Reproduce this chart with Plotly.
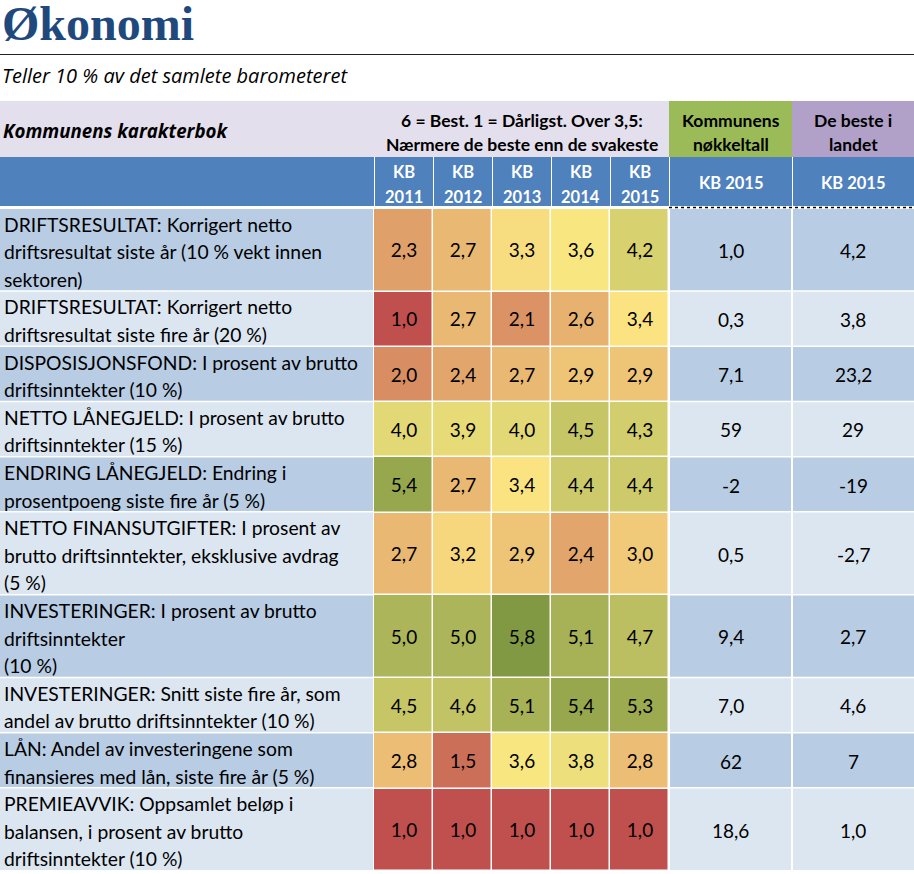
import plotly.graph_objects as go

# ---------------- data ----------------
title = "Økonomi"
subtitle = "Teller 10 % av det samlete barometeret"
table_title = "Kommunens karakterbok"
scale_note = ["6 = Best. 1 = Dårligst. Over 3,5:", "Nærmere de beste enn de svakeste"]
key_head = ["Kommunens", "nøkkeltall"]
best_head = ["De beste i", "landet"]
year_heads = ["KB<br>2011", "KB<br>2012", "KB<br>2013", "KB<br>2014", "KB<br>2015"]
key_year_head = "KB 2015"

indicators = [
    "DRIFTSRESULTAT: Korrigert netto<br>driftsresultat siste år (10 % vekt innen<br>sektoren)",
    "DRIFTSRESULTAT: Korrigert netto<br>driftsresultat siste fire år (20 %)",
    "DISPOSISJONSFOND: I prosent av brutto<br>driftsinntekter (10 %)",
    "NETTO LÅNEGJELD: I prosent av brutto<br>driftsinntekter (15 %)",
    "ENDRING LÅNEGJELD: Endring i<br>prosentpoeng siste fire år (5 %)",
    "NETTO FINANSUTGIFTER: I prosent av<br>brutto driftsinntekter, eksklusive avdrag<br>(5 %)",
    "INVESTERINGER: I prosent av brutto<br>driftsinntekter<br>(10 %)",
    "INVESTERINGER: Snitt siste fire år, som<br>andel av brutto driftsinntekter (10 %)",
    "LÅN: Andel av investeringene som<br>finansieres med lån, siste fire år (5 %)",
    "PREMIEAVVIK: Oppsamlet beløp i<br>balansen, i prosent av brutto<br>driftsinntekter (10 %)",
]
kb2011 = [2.3, 1.0, 2.0, 4.0, 5.4, 2.7, 5.0, 4.5, 2.8, 1.0]
kb2012 = [2.7, 2.7, 2.4, 3.9, 2.7, 3.2, 5.0, 4.6, 1.5, 1.0]
kb2013 = [3.3, 2.1, 2.7, 4.0, 3.4, 2.9, 5.8, 5.1, 3.6, 1.0]
kb2014 = [3.6, 2.6, 2.9, 4.5, 4.4, 2.4, 5.1, 5.4, 3.8, 1.0]
kb2015 = [4.2, 3.4, 2.9, 4.3, 4.4, 3.0, 4.7, 5.3, 2.8, 1.0]
kommune_2015 = [1.0, 0.3, 7.1, 59, -2, 0.5, 9.4, 7.0, 62, 18.6]
beste_2015 = [4.2, 3.8, 23.2, 29, -19, -2.7, 2.7, 4.6, 7, 1.0]
decimals = [1, 1, 1, 0, 0, 1, 1, 1, 0, 1]

# ---------------- style / layout ----------------
W, H = 914, 874
FONT = "Lato"
FONT2 = "Open Sans"
BLUE = "#4F81BD"
LAV = "#E4DFEC"
GREEN_H = "#9BBB59"
PURP_H = "#B1A0C7"
ROW_DARK = "#B8CCE4"
ROW_LIGHT = "#DCE6F1"
col_edges = [0, 374, 433, 492, 551, 610, 669, 792, 914]
LINE_H = 27.6
Y_DATA = 208.0
H1_TOP, H1_BOT, H2_BOT = 101, 157, 206


def fmt(v, d):
    return f"{v:.{d}f}".replace(".", ",")


# row boundaries from number of text lines
row_edges = [Y_DATA]
for lab in indicators:
    n = len(lab.split("<br>"))
    row_edges.append(row_edges[-1] + n * LINE_H)

shapes = []
annotations = []


def rect(x0, y0, x1, y1, color):
    shapes.append(dict(type="rect", xref="x", yref="y", x0=x0, x1=x1, y0=y0, y1=y1,
                       fillcolor=color, line=dict(width=0), layer="below"))


def text(x, y, s, size=18, color="black", xanchor="center", bold=False, italic=False,
         family=FONT, **kw):
    if bold:
        s = f"<b>{s}</b>"
    if italic:
        s = f"<i>{s}</i>"
    annotations.append(dict(x=x, y=y, xref="x", yref="y", text=s, showarrow=False,
                            xanchor=xanchor, yanchor="middle",
                            font=dict(family=family, size=size, color=color), **kw))


# title, rule, subtitle
text(0, 23, title, size=48, color="#1F497D", xanchor="left", bold=True,
     family="Liberation Serif", height=44, valign="middle")
shapes.append(dict(type="line", xref="x", yref="y", x0=0, x1=W, y0=54.5, y1=54.5,
                   line=dict(color="#222222", width=1.2)))
text(0, 75, subtitle, size=20, xanchor="left", italic=True, family=FONT2)

# header row 1
rect(0, H1_TOP, col_edges[6], H1_BOT, LAV)
rect(col_edges[6], H1_TOP, col_edges[7], H1_BOT, GREEN_H)
rect(col_edges[7], H1_TOP, col_edges[8], H1_BOT, PURP_H)
text(1, 130, table_title, size=18.7, xanchor="left", bold=True, italic=True, family=FONT2)
xc_grades = (col_edges[1] + col_edges[6]) / 2
text(xc_grades, 120, scale_note[0], size=17.5, bold=True)
text(xc_grades, 144, scale_note[1], size=17.5, bold=True)
xc_k = (col_edges[6] + col_edges[7]) / 2
xc_b = (col_edges[7] + col_edges[8]) / 2
text(xc_k, 120, key_head[0], size=17.5, bold=True)
text(xc_k, 144, key_head[1], size=17.5, bold=True)
text(xc_b, 120, best_head[0], size=17.5, bold=True)
text(xc_b, 144, best_head[1], size=17.5, bold=True)

# header row 2
for i in range(len(col_edges) - 1):
    x0 = col_edges[i] + (1 if i > 0 else 0)
    rect(x0, H1_BOT, col_edges[i + 1], H2_BOT, BLUE)
for i, h in enumerate(year_heads):
    xc = (col_edges[i + 1] + col_edges[i + 2]) / 2
    a, b = h.split("<br>")
    text(xc, 172, a, size=16.5, color="white", bold=True)
    text(xc, 197, b, size=16.5, color="white", bold=True)
text(xc_k, 183, key_year_head, size=16.5, color="white", bold=True)
text(xc_b, 183, key_year_head, size=16.5, color="white", bold=True)
shapes.append(dict(type="line", xref="x", yref="y", x0=col_edges[6], x1=W, y0=207.5, y1=207.5,
                   line=dict(color="black", width=1.5, dash="dot")))

# data rows: backgrounds + labels + key figures
for r, lab in enumerate(indicators):
    y0, y1 = row_edges[r] + 1, row_edges[r + 1] - 0.5
    col = ROW_DARK if r % 2 == 0 else ROW_LIGHT
    rect(0, y0, col_edges[1] - 1, y1, col)
    rect(col_edges[6] + 1, y0, col_edges[7] - 1, y1, col)
    rect(col_edges[7] + 1, y0, col_edges[8], y1, col)
    for i, line in enumerate(lab.split("<br>")):
        text(2, row_edges[r] + 16 + i * LINE_H, line, size=19.3, xanchor="left")
    yc = (row_edges[r] + row_edges[r + 1]) / 2 + 1
    text(xc_k, yc, fmt(kommune_2015[r], decimals[r]), size=19)
    text(xc_b, yc, fmt(beste_2015[r], decimals[r]), size=19)

# grade heatmap
z = [list(v) for v in zip(kb2011, kb2012, kb2013, kb2014, kb2015)]
ztext = [[fmt(v, 1) for v in row] for row in z]
heat = go.Heatmap(
    z=z, x=col_edges[1:7], y=[e + 1 for e in row_edges],
    text=ztext, texttemplate="%{text}",
    textfont=dict(family=FONT, size=19, color="black"),
    zmin=1, zmax=6,
    colorscale=[[0, "#C0504D"], [0.5, "#FDE984"], [1, "#76923C"]],
    xgap=1.5, ygap=1.5, showscale=False, hoverinfo="skip",
)

fig = go.Figure(heat)
fig.update_layout(
    width=W, height=H, margin=dict(l=0, r=0, t=0, b=0),
    paper_bgcolor="white", plot_bgcolor="white",
    xaxis=dict(range=[0, W], visible=False, fixedrange=True),
    yaxis=dict(range=[H, 0], visible=False, fixedrange=True),
    shapes=shapes, annotations=annotations, showlegend=False,
)
fig.write_html("out.html", config={"displayModeBar": False},
               post_script="document.body.style.margin='0';document.body.style.overflow='hidden';")
